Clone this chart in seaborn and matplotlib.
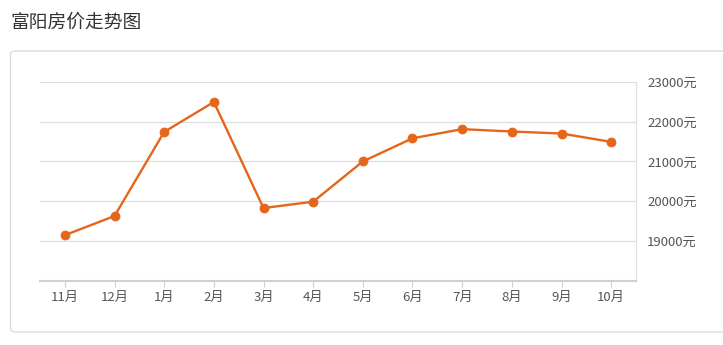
import matplotlib
matplotlib.use("Agg")
import matplotlib.pyplot as plt
import seaborn as sns
import pandas as pd
from matplotlib.patches import FancyBboxPatch

months = ["11月", "12月", "1月", "2月", "3月", "4月", "5月", "6月", "7月", "8月", "9月", "10月"]
prices = [19150, 19630, 21740, 22490, 19830, 19990, 21000, 21580, 21810, 21750, 21700, 21490]
y_ticks = [19000, 20000, 21000, 22000, 23000]
y_labels = ["19000元", "20000元", "21000元", "22000元", "23000元"]
title = "富阳房价走势图"

sns.set_theme(style="white")
plt.rcParams['font.family'] = ['Noto Sans CJK SC', 'DejaVu Sans']

W, H = 723, 345
fig = plt.figure(figsize=(W / 100, H / 100), dpi=100)
fig.patch.set_facecolor("white")

# card
card = FancyBboxPatch((10.5 / W, (H - 332) / H), (735 - 10.5) / W, (332 - 51) / H,
                      boxstyle="round,pad=0,rounding_size=0.008",
                      transform=fig.transFigure, facecolor="white",
                      edgecolor="#dcdcdc", linewidth=1.0, zorder=-10)
fig.patches.append(card)

fig.text(10 / W, 1 - 22 / H, title, fontsize=13.5, color="#333333", va="center", ha="left")

ax = fig.add_axes([40 / W, (H - 281) / H, (636 - 40) / W, (281 - 81.7) / H])
ax.set_zorder(5)
ax.patch.set_alpha(0)
df = pd.DataFrame({"month": months, "price": prices})
df["idx"] = range(len(months))
sns.lineplot(data=df, x="idx", y="price", ax=ax, color="#E5661A", linewidth=1.7,
             marker="o", markersize=6.3, markeredgecolor="#E5661A", markerfacecolor="#E5661A")

ax.set_xlim(-0.5, len(months) - 0.5)
ax.set_ylim(18000, 23000)
ax.set_xticks(range(len(months)))
ax.set_xticklabels(months)
ax.set_yticks(y_ticks)
ax.set_yticklabels(y_labels)
ax.yaxis.tick_right()
ax.set_xlabel("")
ax.set_ylabel("")
ax.grid(axis="y", color="#dedede", linewidth=0.9)
ax.set_axisbelow(True)
for s in ["left", "top"]:
    ax.spines[s].set_visible(False)
ax.spines["right"].set_color("#e0e0e0")
ax.spines["right"].set_linewidth(0.9)
ax.spines["bottom"].set_color("#d0d0d0")
ax.spines["bottom"].set_linewidth(1.5)
ax.tick_params(axis="x", length=4, width=0.8, color="#d0d0d0", labelsize=9.5,
               labelcolor="#555555", pad=3, bottom=True)
ax.tick_params(axis="y", length=0, labelsize=9.5, labelcolor="#555555", pad=8, right=False)

fig.savefig("out.png", dpi=100, facecolor="white")
